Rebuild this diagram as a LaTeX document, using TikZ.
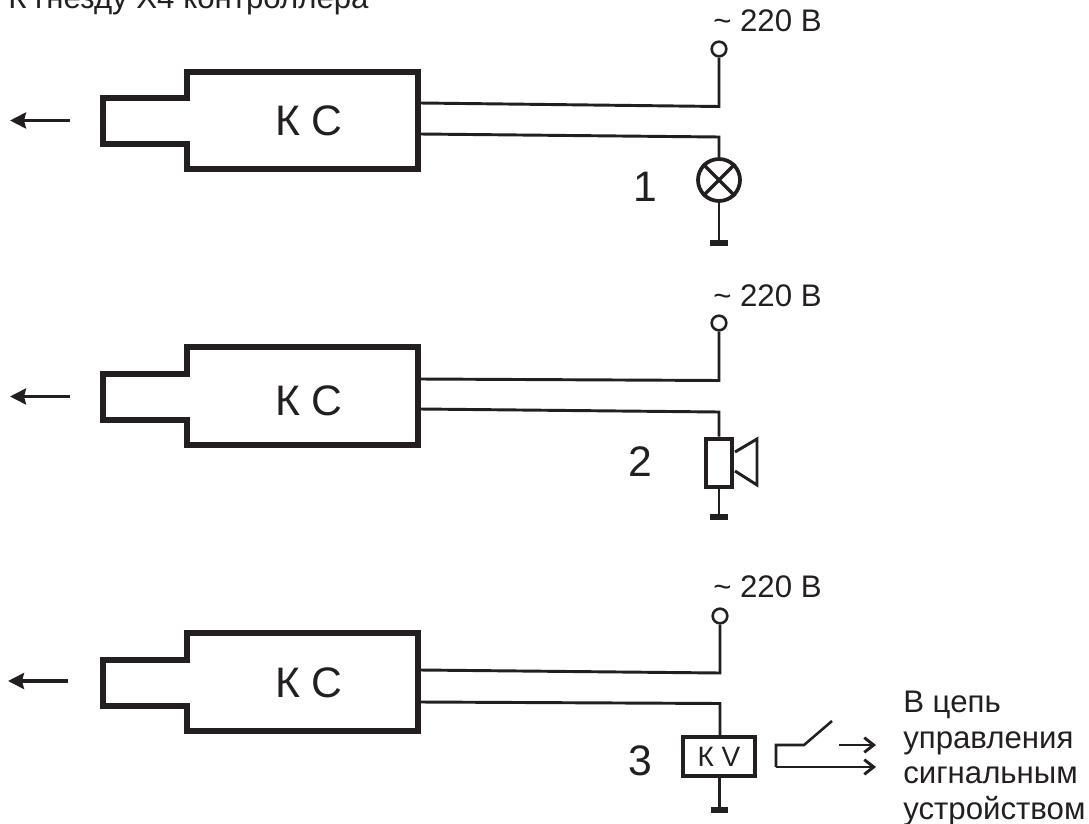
\documentclass[tikz,border=0pt]{standalone}
\usepackage{fontspec}
\setmainfont{Liberation Sans}
\usetikzlibrary{arrows.meta}
\definecolor{ink}{HTML}{231F20}
\tikzset{
  px/.style={x=0.75pt,y=-0.75pt},
  blockline/.style={draw=ink,line width=3.8pt,miter limit=10},
  wire/.style={draw=ink,line width=2.2pt,line join=miter},
  thinwire/.style={draw=ink,line width=2.5pt},
  terminal/.style={draw=ink,line width=1.9pt,circle,fill=white,inner sep=0pt,minimum size=11pt},
  lamp/.style={draw=ink,line width=2.8pt,circle,fill=white,inner sep=0pt,minimum size=31.5pt},
  speakerbody/.style={draw=ink,line width=3pt,fill=white,inner sep=0pt,minimum width=20pt,minimum height=36pt},
  relay/.style={draw=ink,line width=3pt,fill=white,inner sep=0pt,minimum width=54pt,minimum height=29pt,text=ink,font=\fontsize{21}{25}\selectfont},
  gnd/.style={fill=ink,draw=none,inner sep=0pt,minimum width=13pt,minimum height=4.4pt},
  big/.style={text=ink,font=\fontsize{32}{38}\selectfont,inner sep=0pt},
  volt/.style={text=ink,font=\fontsize{23.4}{28}\selectfont,inner sep=0pt,anchor=base west},
  outarrow/.style={draw=ink,line width=2.3pt,-{Stealth[length=12pt,width=12pt,inset=1.5pt]}},
  openarrow/.style={draw=ink,line width=2.2pt,-{Straight Barb[length=7pt,width=11pt]}},
}
\begin{document}
\begin{tikzpicture}[px]
\useasboundingbox (0,0) rectangle (1089,824);
% caption
\node[volt] (cap) at (8,9) {К гнезду Х4 контроллера};

% --- block 1
\draw[blockline] (187,72) -- (418,72) -- (418,169) -- (187,169) -- (187,144) -- (103,144) -- (103,98) -- (187,98) -- cycle;
\node[big] (ks1) at (309,121) {К С};
\coordinate (a1) at (70,120.5); \coordinate (b1) at (10,120.5);
\draw[outarrow] (a1) -- (b1);
\coordinate (u1) at (420,103); \coordinate (uc1) at (719,106.5);
\coordinate (l1) at (420,134); \coordinate (lc1) at (719,137);
\node[terminal] (t1) at (719,49) {};
\node[lamp] (lamp) at (719,180) {};
\node[gnd] (g1) at (719,243) {};
\draw[wire] (u1) -- (uc1) -- (t1);
\draw[wire] (l1) -- (lc1) -- (lamp);
\draw[wire] (lamp) -- (g1);
\draw[thinwire] (lamp.45) -- (lamp.225) (lamp.135) -- (lamp.-45);
\node[volt] (v1) at (713,32) {\textasciitilde{} 220 В};
\node[big] (n1) at (645,187) {1};

% --- block 2
\draw[blockline] (187,347) -- (418,347) -- (418,445) -- (187,445) -- (187,420) -- (103,420) -- (103,374) -- (187,374) -- cycle;
\node[big] (ks2) at (309,401) {К С};
\coordinate (a2) at (70,396.5); \coordinate (b2) at (10,396.5);
\draw[outarrow] (a2) -- (b2);
\coordinate (u2) at (420,379); \coordinate (uc2) at (719,380.5);
\coordinate (l2) at (420,409); \coordinate (lc2) at (719,412);
\node[terminal] (t2) at (719,323) {};
\node[speakerbody] (spk) at (719,462.5) {};
\node[gnd] (g2) at (719,517) {};
\draw[wire] (u2) -- (uc2) -- (t2);
\draw[wire] (l2) -- (lc2) -- (spk);
\draw[wire] (spk) -- (g2);
\draw[draw=ink,line width=2.2pt,line join=miter] (735,452) -- (757,439) -- (757,485) -- (735,471);
\node[volt] (v2) at (713,306) {\textasciitilde{} 220 В};
\node[big] (n2) at (640,462) {2};

% --- block 3
\draw[blockline] (187,633) -- (418,633) -- (418,731) -- (187,731) -- (187,706) -- (103,706) -- (103,660) -- (187,660) -- cycle;
\node[big] (ks3) at (309,683) {К С};
\coordinate (a3) at (68,681); \coordinate (b3) at (8,681);
\draw[outarrow] (a3) -- (b3);
\coordinate (u3) at (420,670); \coordinate (uc3) at (720,673);
\coordinate (l3) at (420,702); \coordinate (lc3) at (720,703.5);
\node[terminal] (t3) at (720,616) {};
\node[relay] (kv) at (719,756.5) {К V};
\node[gnd] (g3) at (719.5,810) {};
\draw[wire] (u3) -- (uc3) -- (t3);
\draw[wire] (l3) -- (lc3) -- (kv.north -| lc3);
\draw[wire] (kv.south -| g3) -- (g3);
\node[volt] (v3) at (713,597) {\textasciitilde{} 220 В};
\node[big] (n3) at (640,761) {3};

% contact
\coordinate (s0) at (832,721); \coordinate (s1) at (804,745); \coordinate (s2) at (776,745);
\coordinate (s3) at (776,767); \coordinate (s4) at (876,767);
\coordinate (s5) at (839,745); \coordinate (s6) at (876,745);
\draw[draw=ink,line width=1.9pt] (s0) -- (s1) -- (s2) -- (s3);
\draw[openarrow] (s3) -- (s4);
\draw[openarrow] (s5) -- (s6);
\node[volt] (o1) at (903,712) {В цепь};
\node[volt] (o2) at (903,748) {управления};
\node[volt] (o3) at (903,783) {сигнальным};
\node[volt] (o4) at (903,819) {устройством};
\end{tikzpicture}
\end{document}
